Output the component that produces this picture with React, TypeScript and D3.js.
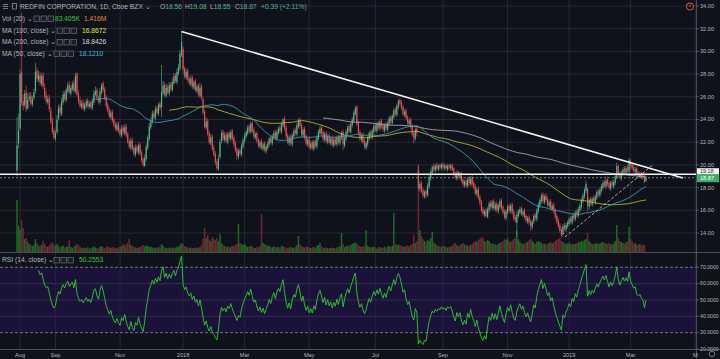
import React from 'react';
import * as d3 from 'd3';

// daily bars, first session 2017-07-28 (IPO), last 2019-03-15
const startDate = '2017-07-28';
const endCalendar = '2019-06-03';
const holidays = ['2017-09-04', '2017-11-23', '2017-12-25', '2018-01-01', '2018-01-15', '2018-02-19', '2018-03-30',
  '2018-05-28', '2018-07-04', '2018-09-03', '2018-11-22', '2018-12-05', '2018-12-25', '2019-01-01', '2019-01-21',
  '2019-02-18', '2019-04-19', '2019-05-27'];

const opens = [
  19.5, 21.9, 23.2, 28.2, 25.6, 25.3, 26.4, 25.0, 25.8, 26.1,
  25.3, 25.9, 26.5, 28.3, 27.5, 27.9, 27.1, 27.9, 26.8, 26.1,
  25.5, 25.9, 24.8, 23.9, 23.0, 22.3, 22.9, 24.1, 25.1, 24.5,
  25.5, 26.3, 25.7, 26.5, 27.1, 26.3, 26.7, 27.2, 26.5, 28.0,
  26.3, 25.7, 25.1, 25.5, 24.9, 25.2, 25.7, 25.1, 25.5, 25.0,
  25.5, 26.2, 26.6, 25.9, 25.5, 26.4, 27.2, 26.7, 26.0, 25.3,
  24.9, 24.2, 24.7, 24.0, 23.6, 23.1, 23.6, 23.1, 22.6, 23.3,
  22.8, 23.4, 22.7, 22.1, 21.5, 22.2, 21.5, 20.9, 21.6, 21.1,
  21.8, 21.1, 20.5, 19.9, 20.5, 21.5, 22.3, 23.3, 23.8, 24.6,
  24.1, 25.0, 24.5, 25.4, 25.1, 26.3, 27.1, 26.1, 26.9, 26.3,
  27.1, 26.6, 27.2, 27.9, 27.3, 28.1, 28.5, 29.7, 30.2, 28.5,
  27.7, 28.3, 27.6, 27.1, 27.7, 26.8, 27.4, 26.5, 27.0, 26.1,
  26.9, 25.8, 24.7, 23.3, 23.9, 22.8, 21.9, 22.5, 21.5, 21.0,
  20.3, 19.6, 20.7, 22.1, 22.9, 22.2, 22.7, 22.0, 22.8, 22.3,
  23.0, 22.4, 21.9, 21.4, 20.7, 21.3, 20.9, 21.6, 22.1, 22.5,
  22.8, 23.4, 22.9, 23.7, 23.1, 22.4, 22.8, 22.2, 21.6, 22.1,
  21.4, 21.9, 21.2, 21.5, 21.8, 22.4, 21.9, 22.4, 22.9, 22.3,
  22.8, 23.3, 22.9, 23.5, 24.1, 23.3, 22.6, 21.9, 22.5, 21.8,
  22.5, 23.1, 22.7, 23.4, 24.0, 23.5, 22.6, 23.2, 22.5, 21.8,
  22.3, 21.5, 22.0, 21.4, 22.1, 21.6, 22.3, 22.8, 23.3, 22.9,
  22.2, 22.8, 22.0, 22.6, 21.9, 22.4, 21.7, 22.3, 21.8, 22.5,
  21.9, 22.4, 22.9, 21.7, 22.3, 22.8, 23.4, 22.9, 23.5, 23.9,
  24.5, 25.1, 23.7, 22.9, 22.2, 22.7, 22.1, 21.5, 21.8, 22.3,
  22.9, 22.4, 22.9, 23.5, 23.0, 23.7, 23.2, 23.9, 23.5, 23.0,
  23.6, 23.1, 23.6, 24.2, 23.7, 24.2, 24.9, 24.4, 25.1, 25.7,
  25.5, 25.1, 24.4, 24.8, 24.2, 23.6, 24.0, 23.4, 22.8, 22.3,
  23.2, 19.6, 17.9, 18.4, 17.8, 17.2, 17.7, 17.3, 18.1, 18.8,
  19.3, 19.9, 19.5, 20.0, 19.6, 20.0, 19.7, 20.1, 19.7, 20.0,
  19.6, 20.0, 19.7, 20.0, 19.7, 19.3, 18.8, 19.4, 18.9, 19.3,
  18.7, 18.2, 18.6, 18.1, 18.8, 18.3, 18.9, 18.4, 18.1, 17.4,
  17.9, 17.2, 16.7, 16.1, 15.6, 16.0, 15.4, 16.0, 16.7, 16.2,
  16.8, 16.1, 16.6, 15.9, 16.3, 16.9, 16.3, 15.9, 15.3, 15.8,
  16.4, 15.9, 16.5, 15.9, 15.4, 14.9, 15.5, 15.8, 16.2, 15.6,
  16.0, 15.5, 15.0, 15.4, 15.0, 14.5, 15.0, 15.6, 15.2, 15.9,
  16.4, 16.8, 17.4, 16.7, 17.3, 17.0, 16.4, 16.8, 16.1, 16.5,
  16.0, 15.5, 15.1, 14.7, 14.3, 13.9, 14.7, 14.3, 14.6, 14.8,
  15.3, 14.9, 15.6, 15.2, 15.9, 15.5, 16.0, 16.3, 16.8, 17.2,
  17.7, 17.9, 16.3, 17.0, 16.5, 17.1, 16.7, 17.1, 17.7, 17.3,
  17.7, 18.0, 18.5, 18.1, 18.7, 18.4, 17.9, 18.5, 18.1, 18.4,
  18.9, 19.9, 19.3, 18.8, 19.2, 19.7, 19.3, 19.8, 19.4, 20.3,
  20.0, 19.8, 19.4, 19.7, 19.3, 19.0, 19.3, 19.1, 18.9, 18.56,
];

const highs = [
  24.2, 24.5, 28.4, 33.4, 26.2, 26.6, 27.0, 26.3, 26.4, 26.4,
  26.1, 26.7, 29.0, 28.6, 28.3, 28.2, 28.1, 28.2, 27.2, 26.5,
  26.1, 26.2, 25.1, 24.2, 23.3, 23.1, 24.4, 25.3, 25.4, 25.9,
  26.5, 26.5, 26.8, 27.3, 27.4, 27.0, 27.4, 27.5, 28.1, 28.2,
  26.6, 26.0, 25.7, 25.8, 25.5, 25.8, 25.9, 25.6, 25.7, 25.9,
  26.6, 26.9, 26.8, 26.1, 26.8, 27.2, 27.4, 26.9, 26.2, 25.5,
  25.1, 24.8, 24.9, 24.2, 23.8, 23.8, 23.8, 23.3, 23.5, 23.5,
  23.6, 23.6, 22.9, 22.3, 22.4, 22.4, 21.7, 21.8, 21.8, 21.9,
  22.0, 21.3, 20.7, 20.9, 21.9, 22.6, 23.7, 24.2, 24.8, 24.8,
  25.2, 25.2, 25.5, 25.6, 28.8, 27.4, 27.3, 27.1, 27.1, 27.3,
  27.3, 27.6, 28.1, 28.1, 28.5, 28.9, 30.1, 31.7, 30.4, 28.7,
  28.5, 28.5, 27.8, 27.9, 27.9, 27.5, 27.6, 27.1, 27.2, 27.2,
  27.1, 26.0, 24.9, 24.2, 24.1, 23.0, 22.7, 22.7, 21.8, 21.2,
  20.5, 20.9, 22.3, 23.1, 23.1, 22.9, 22.9, 22.9, 23.0, 23.1,
  23.2, 22.6, 22.1, 21.6, 21.4, 21.5, 21.9, 22.4, 22.8, 23.1,
  23.5, 23.6, 23.8, 23.9, 23.3, 22.9, 23.0, 22.4, 22.2, 22.3,
  22.0, 22.1, 21.8, 22.1, 22.5, 22.6, 22.7, 23.0, 23.1, 23.1,
  23.4, 23.5, 23.8, 24.1, 24.3, 23.5, 22.8, 22.6, 22.7, 22.8,
  23.2, 23.3, 23.7, 24.1, 24.2, 23.7, 23.3, 23.4, 22.7, 22.4,
  22.5, 22.1, 22.2, 22.2, 22.3, 22.6, 23.1, 23.4, 23.5, 23.1,
  22.9, 23.0, 22.7, 22.8, 22.5, 22.6, 22.4, 22.5, 22.6, 22.7,
  22.7, 23.0, 23.1, 22.6, 23.1, 23.5, 23.6, 23.8, 24.2, 24.8,
  25.2, 25.3, 23.9, 23.1, 22.8, 22.9, 22.3, 22.1, 22.6, 23.0,
  23.1, 23.2, 23.6, 23.7, 23.8, 23.9, 24.0, 24.1, 23.7, 23.7,
  23.8, 23.9, 24.3, 24.4, 24.5, 25.0, 25.1, 25.4, 25.8, 25.9,
  25.7, 25.3, 24.9, 25.0, 24.4, 24.1, 24.2, 23.6, 23.0, 23.3,
  23.4, 20.0, 18.6, 18.6, 18.0, 17.8, 17.9, 18.4, 19.1, 19.6,
  20.0, 20.1, 20.1, 20.2, 20.1, 20.1, 20.2, 20.2, 20.1, 20.1,
  20.1, 20.1, 20.1, 20.1, 19.8, 19.4, 19.5, 19.5, 19.4, 19.4,
  18.9, 18.7, 18.8, 18.9, 19.0, 19.0, 19.1, 18.6, 18.3, 18.0,
  18.1, 17.4, 16.9, 16.3, 16.1, 16.2, 16.3, 16.8, 16.9, 16.9,
  17.0, 16.7, 16.8, 16.6, 17.0, 17.1, 16.5, 16.1, 16.1, 16.5,
  16.6, 16.6, 16.7, 16.1, 15.6, 15.9, 16.1, 16.3, 16.4, 16.1,
  16.2, 15.7, 15.5, 15.6, 15.2, 15.2, 15.7, 15.8, 16.2, 16.7,
  17.1, 17.5, 17.6, 17.4, 17.5, 17.2, 16.9, 17.0, 16.6, 16.7,
  16.2, 15.7, 15.3, 14.9, 14.5, 14.8, 14.9, 14.9, 15.1, 15.4,
  15.5, 15.7, 15.8, 16.0, 16.1, 16.3, 16.6, 17.1, 17.5, 18.0,
  18.6, 18.0, 17.1, 17.2, 17.2, 17.3, 17.4, 17.8, 17.9, 18.0,
  18.3, 18.6, 18.7, 18.8, 18.9, 18.6, 18.6, 18.7, 18.7, 19.2,
  20.2, 20.0, 19.5, 19.5, 19.8, 19.9, 19.9, 20.0, 20.6, 20.5,
  20.2, 20.0, 19.8, 19.9, 19.5, 19.4, 19.4, 19.3, 19.1, 19.08,
];

const lows = [
  19.0, 21.5, 23.0, 25.2, 24.8, 25.1, 24.7, 24.9, 25.6, 25.2,
  25.1, 25.7, 26.3, 27.3, 27.3, 27.0, 26.9, 26.7, 25.8, 25.4,
  25.3, 24.7, 23.6, 22.7, 22.2, 22.1, 22.7, 23.9, 24.3, 24.3,
  25.3, 25.6, 25.5, 26.3, 26.2, 26.1, 26.5, 26.3, 26.3, 26.0,
  25.4, 25.0, 24.9, 24.8, 24.7, 25.0, 25.0, 24.9, 24.9, 24.8,
  25.3, 26.0, 25.7, 25.4, 25.3, 26.2, 26.4, 25.7, 25.0, 24.6,
  24.1, 24.0, 23.7, 23.3, 23.0, 22.9, 22.8, 22.5, 22.4, 22.7,
  22.6, 22.4, 21.8, 21.4, 21.3, 21.2, 20.8, 20.7, 21.0, 20.9,
  20.8, 20.2, 19.8, 19.8, 20.3, 21.3, 22.1, 23.1, 23.6, 24.0,
  23.9, 24.4, 24.3, 24.8, 24.2, 26.1, 26.0, 25.9, 26.2, 26.1,
  26.5, 26.4, 27.0, 27.2, 27.1, 27.9, 28.3, 29.5, 28.0, 27.6,
  27.5, 27.3, 27.0, 26.9, 26.7, 26.6, 26.4, 26.3, 26.0, 25.9,
  25.7, 24.4, 23.2, 23.1, 22.5, 21.8, 21.7, 21.2, 20.7, 20.0,
  19.5, 19.5, 20.5, 21.9, 22.1, 22.0, 21.9, 21.8, 22.2, 22.1,
  22.1, 21.6, 21.1, 20.4, 20.5, 20.8, 20.7, 21.4, 21.9, 22.3,
  22.6, 22.8, 22.7, 22.8, 22.3, 22.2, 21.9, 21.5, 21.4, 21.3,
  21.2, 21.1, 21.0, 21.3, 21.6, 21.8, 21.7, 22.2, 22.2, 22.1,
  22.6, 22.8, 22.7, 23.3, 23.0, 22.3, 21.8, 21.7, 21.7, 21.6,
  22.3, 22.6, 22.5, 23.2, 23.2, 22.5, 22.4, 22.2, 21.7, 21.6,
  21.4, 21.3, 21.3, 21.2, 21.5, 21.4, 22.1, 22.6, 22.6, 22.1,
  22.0, 21.9, 21.8, 21.8, 21.7, 21.6, 21.5, 21.7, 21.6, 21.8,
  21.7, 22.2, 21.3, 21.5, 22.1, 22.6, 22.8, 22.7, 23.3, 23.7,
  24.3, 23.4, 22.6, 22.1, 22.0, 21.8, 21.4, 21.3, 21.6, 22.1,
  22.3, 22.2, 22.7, 22.9, 22.8, 23.1, 23.0, 23.2, 22.9, 22.8,
  23.0, 22.9, 23.4, 23.6, 23.5, 24.0, 24.3, 24.2, 24.9, 25.2,
  24.8, 24.3, 24.2, 23.9, 23.5, 23.4, 23.1, 22.5, 21.9, 22.1,
  22.5, 17.8, 17.6, 17.5, 17.1, 17.0, 17.1, 17.2, 17.9, 18.6,
  19.1, 19.4, 19.3, 19.5, 19.4, 19.6, 19.5, 19.6, 19.5, 19.5,
  19.4, 19.6, 19.5, 19.4, 19.0, 18.7, 18.6, 18.8, 18.7, 18.4,
  18.1, 18.0, 18.0, 18.0, 18.2, 18.1, 18.1, 17.8, 17.3, 17.2,
  16.9, 16.4, 15.8, 15.5, 15.4, 15.3, 15.3, 15.8, 16.1, 16.0,
  16.0, 15.9, 15.8, 15.7, 16.1, 16.0, 15.6, 15.2, 15.1, 15.6,
  15.8, 15.7, 15.6, 15.1, 14.9, 13.6, 15.3, 15.6, 15.5, 15.4,
  15.2, 14.9, 14.8, 14.7, 14.2, 14.3, 14.8, 15.1, 15.0, 15.7,
  16.2, 16.6, 16.6, 16.5, 16.7, 16.3, 16.2, 16.0, 15.9, 15.7,
  15.2, 14.8, 14.4, 14.0, 13.6, 13.7, 14.2, 14.1, 14.4, 14.6,
  14.8, 14.7, 15.1, 15.0, 15.4, 15.3, 15.8, 16.1, 16.6, 17.0,
  17.5, 15.9, 16.1, 16.4, 16.3, 16.6, 16.5, 16.9, 17.2, 17.1,
  17.5, 17.8, 18.0, 17.9, 18.1, 17.8, 17.7, 18.0, 17.9, 18.2,
  18.7, 18.9, 18.7, 18.6, 19.0, 19.2, 19.1, 19.3, 19.2, 19.6,
  19.5, 19.3, 19.2, 19.0, 18.9, 18.8, 18.8, 18.7, 18.4, 18.55,
];

const closes = [
  21.7, 23.0, 28.0, 25.5, 25.2, 26.3, 24.9, 25.7, 26.0, 25.4,
  25.8, 26.4, 28.2, 27.6, 27.9, 27.2, 27.8, 26.9, 26.0, 25.6,
  25.8, 24.9, 23.8, 22.9, 22.4, 22.8, 24.0, 25.0, 24.6, 25.6,
  26.2, 25.8, 26.6, 27.0, 26.4, 26.8, 27.1, 26.5, 27.8, 26.2,
  25.6, 25.2, 25.4, 25.0, 25.3, 25.6, 25.2, 25.4, 25.1, 25.6,
  26.3, 26.5, 25.9, 25.6, 26.5, 27.0, 26.6, 25.9, 25.2, 24.8,
  24.3, 24.6, 23.9, 23.5, 23.2, 23.5, 23.0, 22.7, 23.2, 22.9,
  23.3, 22.6, 22.0, 21.6, 22.1, 21.4, 21.0, 21.5, 21.2, 21.7,
  21.0, 20.4, 20.0, 20.6, 21.6, 22.4, 23.4, 23.9, 24.5, 24.2,
  24.9, 24.6, 25.3, 25.0, 26.4, 27.0, 26.2, 26.8, 26.4, 27.0,
  26.7, 27.3, 27.8, 27.4, 28.2, 28.6, 29.8, 30.8, 28.4, 27.8,
  28.2, 27.5, 27.2, 27.6, 26.9, 27.3, 26.6, 26.9, 26.2, 26.8,
  25.9, 24.6, 23.4, 23.8, 22.7, 22.0, 22.4, 21.4, 20.9, 20.2,
  19.7, 20.6, 22.0, 22.8, 22.3, 22.6, 22.1, 22.7, 22.4, 22.9,
  22.3, 21.8, 21.3, 20.8, 21.2, 21.0, 21.7, 22.2, 22.6, 22.9,
  23.3, 23.0, 23.6, 23.0, 22.5, 22.7, 22.1, 21.7, 22.0, 21.5,
  21.8, 21.3, 21.6, 21.9, 22.3, 22.0, 22.5, 22.8, 22.4, 22.9,
  23.2, 23.0, 23.6, 24.0, 23.2, 22.5, 22.0, 22.4, 21.9, 22.6,
  23.0, 22.8, 23.5, 23.9, 23.4, 22.7, 23.1, 22.4, 21.9, 22.2,
  21.6, 21.9, 21.5, 22.0, 21.7, 22.4, 22.9, 23.2, 22.8, 22.3,
  22.7, 22.1, 22.5, 22.0, 22.3, 21.8, 22.2, 21.9, 22.4, 22.0,
  22.5, 22.8, 21.8, 22.4, 22.9, 23.3, 23.0, 23.6, 24.0, 24.6,
  25.0, 23.6, 22.8, 22.3, 22.6, 22.0, 21.6, 21.9, 22.4, 22.8,
  22.5, 23.0, 23.4, 23.1, 23.6, 23.3, 23.8, 23.4, 23.1, 23.5,
  23.2, 23.7, 24.1, 23.8, 24.3, 24.8, 24.5, 25.2, 25.6, 25.4,
  25.0, 24.5, 24.7, 24.1, 23.7, 23.9, 23.3, 22.7, 22.4, 23.1,
  22.8, 18.0, 18.3, 17.7, 17.3, 17.6, 17.4, 18.2, 18.9, 19.4,
  19.8, 19.6, 19.9, 19.7, 19.9, 19.8, 20.0, 19.8, 19.9, 19.7,
  19.9, 19.8, 19.9, 19.6, 19.2, 18.9, 19.3, 19.0, 19.2, 18.6,
  18.3, 18.5, 18.2, 18.7, 18.4, 18.8, 18.3, 18.0, 17.5, 17.8,
  17.1, 16.6, 16.0, 15.7, 15.9, 15.5, 16.1, 16.6, 16.3, 16.7,
  16.2, 16.5, 16.0, 16.4, 16.8, 16.2, 15.8, 15.4, 15.9, 16.3,
  16.0, 16.4, 15.8, 15.3, 15.1, 15.6, 15.9, 16.1, 15.7, 15.9,
  15.4, 15.1, 15.3, 14.9, 14.6, 15.0, 15.5, 15.3, 16.0, 16.5,
  16.9, 17.3, 16.8, 17.2, 16.9, 16.5, 16.7, 16.2, 16.4, 15.9,
  15.4, 15.0, 14.6, 14.2, 13.8, 14.6, 14.4, 14.7, 14.9, 15.2,
  15.0, 15.5, 15.3, 15.8, 15.6, 16.1, 16.4, 16.9, 17.3, 17.8,
  18.3, 16.4, 16.9, 16.6, 17.0, 16.8, 17.2, 17.6, 17.4, 17.8,
  18.1, 18.4, 18.2, 18.6, 18.3, 18.0, 18.4, 18.2, 18.5, 19.0,
  19.9, 19.2, 18.9, 19.3, 19.6, 19.4, 19.7, 19.5, 20.4, 19.9,
  19.7, 19.5, 19.6, 19.2, 19.1, 19.2, 19.0, 18.9, 18.48, 18.87,
];

// millions of shares
const volumes = [
  10.4, 5.2, 4.5, 6.4, 4.8, 2.6, 2.8, 2.0, 1.6, 1.4,
  1.2, 1.5, 2.6, 1.8, 1.3, 1.1, 1.4, 2.2, 1.6, 1.2,
  1.0, 1.3, 1.7, 1.9, 1.5, 1.3, 1.6, 1.2, 0.9, 1.1,
  1.3, 0.9, 1.0, 1.2, 2.4, 1.0, 0.8, 1.1, 1.3, 1.6,
  1.4, 1.0, 0.8, 0.9, 0.7, 0.8, 1.0, 0.7, 0.8, 0.9,
  1.1, 0.9, 0.8, 0.7, 1.0, 1.2, 0.9, 0.8, 1.0, 1.1,
  0.9, 0.8, 1.0, 0.9, 0.8, 0.7, 0.9, 1.0, 1.2, 1.6,
  1.3, 1.5, 1.8, 2.6, 1.4, 1.2, 1.0, 0.9, 0.8, 0.9,
  1.0, 1.2, 1.4, 1.1, 1.3, 1.2, 1.0, 1.1, 0.9, 0.8,
  0.9, 0.8, 1.0, 0.9, 1.6, 1.2, 0.9, 0.8, 0.7, 0.9,
  0.8, 0.7, 0.9, 0.8, 1.0, 1.1, 1.4, 1.8, 1.6, 1.2,
  1.0, 0.9, 0.8, 0.9, 0.7, 0.8, 0.9, 0.8, 0.9, 1.0,
  1.4, 2.6, 4.8, 2.8, 3.4, 2.5, 2.2, 3.0, 2.6, 2.4,
  2.8, 2.2, 3.6, 1.8, 1.4, 1.2, 1.0, 1.1, 0.9, 1.0,
  1.2, 1.3, 1.4, 1.6, 5.6, 1.8, 1.6, 1.4, 1.6, 1.2,
  1.0, 1.1, 1.3, 1.0, 0.9, 0.8, 1.0, 0.9, 1.2, 7.6,
  1.8, 1.6, 1.4, 1.2, 1.3, 1.0, 0.9, 1.1, 1.0, 0.9,
  1.0, 0.8, 1.2, 1.1, 1.0, 0.9, 0.8, 0.9, 1.0, 0.8,
  0.9, 1.0, 1.4, 3.2, 1.6, 1.2, 1.0, 0.9, 1.1, 1.0,
  0.9, 0.8, 0.9, 1.0, 0.8, 1.2, 1.4, 1.8, 1.1, 0.9,
  0.8, 0.9, 0.8, 0.7, 0.8, 0.9, 0.8, 0.7, 0.9, 1.0,
  1.2, 3.8, 1.6, 1.0, 1.1, 1.3, 1.2, 1.4, 1.6, 1.8,
  1.9, 1.7, 1.4, 1.2, 1.0, 1.1, 1.3, 4.4, 1.2, 1.0,
  0.9, 1.0, 1.1, 0.8, 0.7, 0.9, 1.0, 0.8, 0.9, 1.0,
  0.9, 1.1, 1.2, 1.0, 1.3, 7.8, 1.6, 1.4, 1.5, 1.3,
  1.2, 1.1, 1.0, 1.2, 1.3, 1.1, 1.4, 1.6, 3.4, 1.8,
  2.2, 17.4, 4.4, 3.2, 2.6, 2.2, 1.9, 2.4, 2.2, 2.8,
  4.0, 2.0, 1.6, 1.4, 1.2, 1.1, 1.0, 1.3, 1.2, 1.0,
  0.9, 1.0, 1.1, 1.2, 1.6, 1.8, 1.4, 1.2, 1.3, 1.6,
  1.8, 1.5, 1.4, 1.3, 1.2, 1.4, 1.6, 1.9, 2.2, 2.0,
  2.4, 2.6, 3.0, 2.8, 2.2, 2.0, 2.4, 2.2, 1.8, 1.6,
  1.7, 1.5, 1.4, 1.6, 1.8, 2.0, 2.2, 2.6, 2.4, 2.8,
  2.2, 1.9, 2.3, 2.6, 2.8, 4.2, 2.6, 2.0, 1.8, 1.6,
  1.7, 1.9, 2.0, 2.4, 2.6, 2.2, 1.9, 1.6, 2.0, 2.2,
  2.0, 1.8, 1.6, 1.7, 1.5, 1.6, 1.8, 2.0, 1.7, 1.9,
  2.2, 2.4, 2.6, 2.8, 2.2, 2.0, 1.8, 1.6, 1.7, 1.8,
  1.6, 1.5, 1.7, 1.6, 1.8, 1.9, 2.0, 2.2, 2.1, 2.4,
  2.6, 3.8, 2.2, 1.8, 1.6, 1.5, 1.7, 1.8, 1.6, 1.7,
  1.9, 2.0, 1.8, 1.7, 1.6, 1.8, 1.5, 1.6, 1.7, 2.2,
  5.4, 2.8, 2.2, 2.0, 1.8, 1.7, 1.9, 2.2, 5.0, 2.6,
  2.2, 1.6, 1.8, 1.5, 1.4, 1.6, 1.3, 1.5, 1.4, 0.08,
];

const priceTicks = [14, 16, 18, 20, 22, 24, 26, 28, 30, 32, 34];
const rsiTicks = [20, 30, 40, 50, 60, 70];
const monthTicks = [
  ['2017-08-01', 'Aug'], ['2017-09-01', 'Sep'], ['2017-11-01', 'Nov'], ['2018-01-01', '2018'],
  ['2018-03-01', 'Mar'], ['2018-05-01', 'May'], ['2018-07-01', 'Jul'], ['2018-09-01', 'Sep'],
  ['2018-11-01', 'Nov'], ['2019-01-01', '2019'], ['2019-03-01', 'Mar'], ['2019-05-01', 'M'],
];

// drawings: bar index + price
const trendLine = [[106.9, 31.76], [433, 18.85]];
const supportLine = [[356.3, 13.65], [413.5, 20.0]];
const levelPrice = 19.18;

const legendOHLC = [['O', '18.56'], ['H', '19.08'], ['L', '18.55'], ['C', '18.87']];
const legendChange = '+0.39 (+2.11%)';
const volLegend = ['83.405K', '1.416M'];
const maLegend = [
  { label: 'MA (100, close)', value: '16.8672', color: '#e6e33a' },
  { label: 'MA (200, close)', value: '18.8426', color: '#d8d9dc' },
  { label: 'MA (50, close)', value: '18.1210', color: '#3cc3d4' },
];
const rsiLegend = '50.2553';

const BG = '#10121b';
const GRID = '#2b2f3b';
const TXT = '#b2b5be';
const UP = '#53b987';
const DOWN = '#eb4d5c';
const FONT = 'Liberation Sans, Arial, sans-serif';

const AXIS_X = 696;
const MAIN_BOTTOM = 252;
const RSI_BOTTOM = 349;

function tradingDays(from: string, to: string, skip: string[]) {
  const out: string[] = [];
  const end = new Date(to + 'T00:00:00Z').getTime();
  for (let t = new Date(from + 'T00:00:00Z').getTime(); t <= end; t += 864e5) {
    const d = new Date(t);
    const wd = d.getUTCDay();
    const s = d.toISOString().slice(0, 10);
    if (wd === 0 || wd === 6 || skip.includes(s)) continue;
    out.push(s);
  }
  return out;
}

function sma(values: number[], n: number) {
  return values.map((_, i) => (i < n - 1 ? null : d3.mean(values.slice(i - n + 1, i + 1)) as number));
}

function rsi(values: number[], n: number) {
  const out: (number | null)[] = values.map(() => null);
  let up = 0, down = 0;
  for (let i = 1; i < values.length; i++) {
    const ch = values[i] - values[i - 1];
    const g = Math.max(ch, 0), l = Math.max(-ch, 0);
    if (i <= n) {
      up += g / n; down += l / n;
    } else {
      up = (up * (n - 1) + g) / n;
      down = (down * (n - 1) + l) / n;
    }
    if (i >= n) out[i] = down === 0 ? 100 : 100 - 100 / (1 + up / down);
  }
  return out;
}

const Icons = ({ x, y }: { x: number; y: number }) => (
  <g stroke="#6b6e78" strokeWidth={0.7} fill="#1a1d27">
    {[0, 7, 14].map(dx => <rect key={dx} x={x + dx} y={y - 4.5} width={5.5} height={5.5} />)}
  </g>
);

const App = () => {
  const days = tradingDays(startDate, endCalendar, holidays);
  const indexOf = (date: string) => days.findIndex(d => d >= date);

  const x = d3.scaleLinear().domain([0, closes.length - 1]).range([17, 646]);
  const y = d3.scaleLinear().domain([14, 34]).range([233, 6]);
  const yVol = d3.scaleLinear().domain([0, d3.max(volumes) as number]).range([MAIN_BOTTOM, 165]);
  const yRsi = d3.scaleLinear().domain([20, 70]).range([RSI_BOTTOM, 267.3]);

  const ma50 = sma(closes, 50);
  const ma100 = sma(closes, 100);
  const ma200 = sma(closes, 200);
  const rsiVals = rsi(closes, 14);

  const maLine = d3.line<number | null>()
    .defined(d => d != null)
    .x((_, i) => x(i))
    .y(d => y(d as number));
  const rsiLine = d3.line<number | null>()
    .defined(d => d != null)
    .x((_, i) => x(i))
    .y(d => yRsi(d as number));

  const ticks = monthTicks.map(([date, label]) => ({ label, x: x(indexOf(date)) }));
  const bw = 1.15;
  const last = closes[closes.length - 1];

  return (
    <svg width={720} height={359} style={{ position: 'absolute', left: 0, top: 0, fontFamily: FONT }}>
      <defs>
        <clipPath id="mainClip"><rect x={0} y={0} width={AXIS_X} height={MAIN_BOTTOM} /></clipPath>
        <clipPath id="rsiClip"><rect x={0} y={MAIN_BOTTOM + 1} width={AXIS_X} height={RSI_BOTTOM - MAIN_BOTTOM - 1} /></clipPath>
      </defs>
      <rect width={720} height={359} fill={BG} />

      {/* grid */}
      {ticks.map(t => (
        <line key={t.label + t.x} x1={t.x} x2={t.x} y1={0} y2={RSI_BOTTOM} stroke={GRID} strokeWidth={0.8} />
      ))}
      {priceTicks.map(p => (
        <line key={p} x1={0} x2={AXIS_X} y1={y(p)} y2={y(p)} stroke={GRID} strokeWidth={0.8} />
      ))}

      {/* volume */}
      <g clipPath="url(#mainClip)">
        {volumes.map((v, i) => (
          <rect key={i} x={x(i) - 0.75} width={1.5} y={yVol(v)} height={MAIN_BOTTOM - yVol(v)}
            fill={closes[i] >= opens[i] ? '#1d7a24' : '#7d2c38'} opacity={0.85} />
        ))}
      </g>

      {/* candles, averages and drawings */}
      <g clipPath="url(#mainClip)">
        {closes.map((c, i) => {
          const o = opens[i];
          const col = c >= o ? UP : DOWN;
          const top = Math.max(highs[i], o, c), bot = Math.min(lows[i], o, c);
          const y0 = y(Math.max(o, c)), y1 = y(Math.min(o, c));
          return (
            <g key={i}>
              <line x1={x(i)} x2={x(i)} y1={y(top)} y2={y(bot)} stroke={col} strokeWidth={0.6} />
              <rect x={x(i) - bw / 2} width={bw} y={y0} height={Math.max(0.8, y1 - y0)} fill={col} />
            </g>
          );
        })}
        <path d={maLine(ma200) || ''} fill="none" stroke="#a9abb0" strokeWidth={0.9} />
        <path d={maLine(ma100) || ''} fill="none" stroke="#b8b63a" strokeWidth={0.9} />
        <path d={maLine(ma50) || ''} fill="none" stroke="#3a9fb3" strokeWidth={0.9} />

        <line x1={0} x2={AXIS_X} y1={y(levelPrice)} y2={y(levelPrice)} stroke="#f2f2f2" strokeWidth={1.6} />
        <line x1={0} x2={AXIS_X} y1={y(last)} y2={y(last)} stroke="#8fb8a0" strokeWidth={0.7} strokeDasharray="2,2" />
        <line x1={x(trendLine[0][0])} y1={y(trendLine[0][1])} x2={x(trendLine[1][0])} y2={y(trendLine[1][1])}
          stroke="#f4f4f4" strokeWidth={1.5} />
        <line x1={x(supportLine[0][0])} y1={y(supportLine[0][1])} x2={x(supportLine[1][0])} y2={y(supportLine[1][1])}
          stroke="#cfd0d4" strokeWidth={0.8} strokeDasharray="3,2" />
      </g>

      {/* RSI pane */}
      <rect x={0} y={yRsi(70)} width={AXIS_X} height={yRsi(30) - yRsi(70)} fill="#2a1460" opacity={0.45} />
      {[60, 50, 40].map(v => (
        <line key={v} x1={0} x2={AXIS_X} y1={yRsi(v)} y2={yRsi(v)} stroke="#3b3558" strokeWidth={0.8} />
      ))}
      {[70, 30].map(v => (
        <line key={v} x1={0} x2={AXIS_X} y1={yRsi(v)} y2={yRsi(v)} stroke="#8d8f99" strokeWidth={0.8} strokeDasharray="3,2" />
      ))}
      <g clipPath="url(#rsiClip)">
        <path d={rsiLine(rsiVals) || ''} fill="none" stroke="#33c933" strokeWidth={0.9} />
      </g>

      {/* frame */}
      <line x1={0} x2={720} y1={MAIN_BOTTOM + 0.5} y2={MAIN_BOTTOM + 0.5} stroke="#4a4d58" strokeWidth={1} />
      <line x1={0} x2={720} y1={RSI_BOTTOM + 0.5} y2={RSI_BOTTOM + 0.5} stroke="#4a4d58" strokeWidth={1} />
      <line x1={AXIS_X + 0.5} x2={AXIS_X + 0.5} y1={0} y2={359} stroke="#4a4d58" strokeWidth={1} />

      {/* price axis */}
      {priceTicks.map(p => (
        <g key={p}>
          <line x1={AXIS_X} x2={AXIS_X + 3} y1={y(p)} y2={y(p)} stroke="#6b6e78" strokeWidth={0.7} />
          <text x={700} y={y(p)} dy="0.35em" fontSize={5.6} fill={TXT}>{p.toFixed(2)}</text>
        </g>
      ))}
      {rsiTicks.map(v => (
        <g key={v}>
          <line x1={AXIS_X} x2={AXIS_X + 3} y1={yRsi(v)} y2={yRsi(v)} stroke="#6b6e78" strokeWidth={0.7} />
          <text x={700} y={yRsi(v)} dy="0.35em" fontSize={5.2} fill={TXT}>{v.toFixed(4)}</text>
        </g>
      ))}
      <rect x={697} y={y(levelPrice) - 6} width={22} height={6.5} fill="#f2f2f2" />
      <text x={700} y={y(levelPrice) - 2.6} dy="0.35em" fontSize={5.4} fill="#333">{levelPrice.toFixed(2)}</text>
      <rect x={697} y={y(last) - 3.5} width={22} height={8} fill="#3fae6e" />
      <text x={700} y={y(last) + 0.5} dy="0.35em" fontSize={5.6} fill="#ffffff">{last.toFixed(2)}</text>

      {/* time axis */}
      {ticks.map(t => (
        <text key={t.label + t.x} x={t.x} y={355} dy="0.35em" textAnchor="middle" fontSize={5.6} fill={TXT}>{t.label}</text>
      ))}
      <circle cx={712} cy={354} r={2.8} fill="none" stroke="#8a8d96" strokeWidth={0.8} />
      <circle cx={690} cy={6.5} r={3.6} fill="none" stroke="#d0743a" strokeWidth={0.9} />
      <line x1={690} x2={690} y1={4.6} y2={7} stroke="#d0743a" strokeWidth={0.9} />

      {/* legends */}
      <g fontSize={6.7} fill={TXT}>
        <g stroke="#9a9da6" strokeWidth={0.7}>
          <line x1={3} x2={8} y1={4.5} y2={4.5} /><line x1={3} x2={8} y1={6.5} y2={6.5} /><line x1={3} x2={8} y1={8.5} y2={8.5} />
          <rect x={12.5} y={3.5} width={4} height={5.5} fill="none" />
        </g>
        <text x={20} y={6.5} dy="0.35em">REDFIN CORPORATION, 1D, Cboe BZX ⌄</text>
        {legendOHLC.map(([k, v], j) => (
          <text key={k} x={160 + j * 25} y={6.5} dy="0.35em">{k}<tspan fill={UP}>{v}</tspan></text>
        ))}
        <text x={261} y={6.5} dy="0.35em" fill={UP}>{legendChange}</text>

        <text x={2} y={18.5} dy="0.35em">Vol (20) ⌄</text>
        <Icons x={34} y={20.5} />
        <text x={55} y={18.5} dy="0.35em" fill="#37c837">{volLegend[0]}</text>
        <text x={84} y={18.5} dy="0.35em" fill="#e08a3a">{volLegend[1]}</text>

        {maLegend.map((m, k) => {
          const ly = 30.5 + k * 11.5;
          const vx = k === 2 ? 79 : 82;
          return (
            <g key={m.label}>
              <text x={2} y={ly} dy="0.35em">{m.label} ⌄</text>
              <Icons x={vx - 25} y={ly + 2} />
              <text x={vx} y={ly} dy="0.35em" fill={m.color}>{m.value}</text>
            </g>
          );
        })}

        <text x={2} y={260} dy="0.35em">RSI (14, close) ⌄</text>
        <Icons x={54} y={262} />
        <text x={79} y={260} dy="0.35em" fill="#37c837">{rsiLegend}</text>
      </g>
    </svg>
  );
};

export default App;
